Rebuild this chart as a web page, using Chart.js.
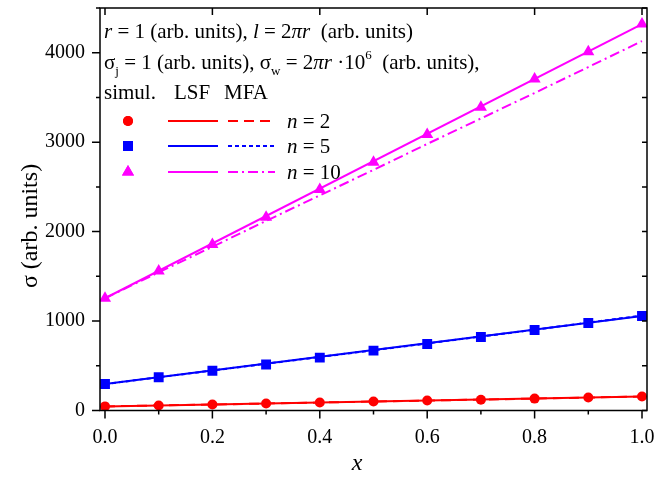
<!DOCTYPE html>
<html><head><meta charset="utf-8">
<script src="https://cdn.jsdelivr.net/npm/chart.js@4/dist/chart.umd.min.js"></script>
<style>html,body{margin:0;padding:0;background:#fff}</style>
</head><body>
<canvas id="c" width="670" height="483" style="width:670px;height:483px;display:block"></canvas>
<script>
// ---- data ----
const xValues = [0, 0.1, 0.2, 0.3, 0.4, 0.5, 0.6, 0.7, 0.8, 0.9, 1.0];
const simN2  = [46, 56, 67, 78, 89, 100, 111, 121, 133, 145, 157];
const simN5  = [296, 371, 445, 514, 591, 669, 744, 822, 900, 979, 1057];
const simN10 = [1255, 1560, 1855, 2160, 2470, 2775, 3085, 3390, 3705, 4010, 4320];
const mfaN2  = [46, 56, 67, 78, 89, 100, 111, 122, 133, 145, 157];
const mfaN5  = [296, 372, 447, 523, 598, 674, 750, 826, 903, 982, 1062];
const mfaN10 = [1255, 1545, 1830, 2120, 2405, 2690, 2980, 3265, 3550, 3840, 4130];
const lsfX   = [0, 1];
const lsfN2  = [45, 157];
const lsfN5  = [296, 1057];
const lsfN10 = [1255, 4320];
const xTickValues = [0, 0.1, 0.2, 0.3, 0.4, 0.5, 0.6, 0.7, 0.8, 0.9, 1.0];
const xTickLabels = ['0.0', '', '0.2', '', '0.4', '', '0.6', '', '0.8', '', '1.0'];
const yTickValues = [0, 500, 1000, 1500, 2000, 2500, 3000, 3500, 4000, 4500];
const yTickLabels = ['0', '', '1000', '', '2000', '', '3000', '', '4000', ''];

const RED = '#ff0000', BLUE = '#0000ff', MAG = '#ff00ff';
const FONT = '"Liberation Serif", "Times New Roman", serif';

function pts(xs, ys) { return xs.map((x, i) => ({x: x, y: ys[i]})); }

const simStyle = (c, style, r) => ({
  showLine: false, pointStyle: style, pointRadius: r, pointHoverRadius: r,
  backgroundColor: c, borderColor: c, borderWidth: 0
});
const lineStyle = (c, dash) => ({
  showLine: true, pointRadius: 0, pointHoverRadius: 0, borderColor: c,
  backgroundColor: c, borderWidth: 2, borderDash: dash, fill: false, tension: 0
});

const datasets = [
  Object.assign({label: 'simul n=2',  data: pts(xValues, simN2)},  simStyle(RED, 'circle', 5)),
  Object.assign({label: 'simul n=5',  data: pts(xValues, simN5)},  simStyle(BLUE, 'rect', 7)),
  Object.assign({label: 'simul n=10', data: pts(xValues, simN10)}, simStyle(MAG, 'triangle', 7)),
  Object.assign({label: 'LSF n=2',  data: pts(lsfX, lsfN2)},  lineStyle(RED, [])),
  Object.assign({label: 'LSF n=5',  data: pts(lsfX, lsfN5)},  lineStyle(BLUE, [])),
  Object.assign({label: 'LSF n=10', data: pts(lsfX, lsfN10)}, lineStyle(MAG, [])),
  Object.assign({label: 'MFA n=2',  data: pts(xValues, mfaN2)},  lineStyle(RED, [10, 6])),
  Object.assign({label: 'MFA n=5',  data: pts(xValues, mfaN5)},  lineStyle(BLUE, [4, 3])),
  Object.assign({label: 'MFA n=10', data: pts(xValues, mfaN10)}, lineStyle(MAG, [10, 4, 2, 4]))
];

function drawRuns(ctx, x, y, parts) {
  parts.forEach(p => {
    ctx.font = (p.i ? 'italic ' : '') + (p.s || 21) + 'px ' + FONT;
    ctx.fillText(p.t, x, y + (p.dy || 0));
    x += ctx.measureText(p.t).width;
  });
  return x;
}

const framePlugin = {
  id: 'frame',
  afterDraw(chart) {
    const ctx = chart.ctx, a = chart.chartArea;
    const xs = chart.scales.x, ys = chart.scales.y;
    ctx.save();
    ctx.strokeStyle = '#000';
    ctx.lineWidth = 1.5;
    ctx.strokeRect(a.left, a.top, a.right - a.left, a.bottom - a.top);
    ctx.beginPath();
    xTickValues.forEach((v, i) => {
      const px = xs.getPixelForValue(v);
      const major = xTickLabels[i] !== '';
      ctx.moveTo(px, a.bottom); ctx.lineTo(px, a.bottom + (major ? 8 : 4));
      if (major) { ctx.moveTo(px, a.top); ctx.lineTo(px, a.top + 7); }
    });
    yTickValues.forEach((v, i) => {
      const py = ys.getPixelForValue(v);
      const major = yTickLabels[i] !== '';
      ctx.moveTo(a.left, py); ctx.lineTo(a.left - (major ? 8 : 4), py);
      ctx.moveTo(a.right, py); ctx.lineTo(a.right - 5, py);
    });
    ctx.stroke();

    // axis titles
    ctx.fillStyle = '#000';
    ctx.textBaseline = 'middle';
    ctx.textAlign = 'center';
    ctx.font = 'italic 24px ' + FONT;
    ctx.fillText('x', 357, 464);
    ctx.save();
    ctx.translate(31, 226);
    ctx.rotate(-Math.PI / 2);
    ctx.font = '24px ' + FONT;
    ctx.fillText('\u03c3 (arb. units)', 0, 0);
    ctx.restore();

    // legend / annotation text
    ctx.textAlign = 'left';
    ctx.textBaseline = 'alphabetic';
    drawRuns(ctx, 104, 38, [
      {t: 'r', i: true}, {t: ' = 1 (arb. units), '}, {t: 'l', i: true},
      {t: ' = 2'}, {t: '\u03c0r', i: true}, {t: '  (arb. units)'}
    ]);
    drawRuns(ctx, 104, 69, [
      {t: '\u03c3'}, {t: 'j', s: 13, dy: 6}, {t: ' = 1 (arb. units), \u03c3'}, {t: 'w', s: 13, dy: 6},
      {t: ' = 2'}, {t: '\u03c0r', i: true}, {t: ' \u00b710'}, {t: '6', s: 13, dy: -10},
      {t: '  (arb. units),'}
    ]);
    drawRuns(ctx, 104, 99, [{t: 'simul.'}]);
    drawRuns(ctx, 174, 99, [{t: 'LSF'}]);
    drawRuns(ctx, 224, 99, [{t: 'MFA'}]);

    const rows = [
      {y: 121, c: RED, st: 'circle', r: 5, dash: [10, 6], n: '2'},
      {y: 146, c: BLUE, st: 'rect', r: 7, dash: [4, 3], n: '5'},
      {y: 172, c: MAG, st: 'triangle', r: 7, dash: [10, 4, 2, 4], n: '10'}
    ];
    rows.forEach(row => {
      ctx.fillStyle = row.c; ctx.strokeStyle = row.c;
      Chart.helpers.drawPoint(ctx, {pointStyle: row.st, radius: row.r, rotation: 0, borderWidth: 0}, 128, row.y);
      ctx.fill();
      ctx.lineWidth = 2;
      ctx.setLineDash([]);
      ctx.beginPath(); ctx.moveTo(168, row.y); ctx.lineTo(218, row.y); ctx.stroke();
      ctx.setLineDash(row.dash);
      ctx.beginPath(); ctx.moveTo(228, row.y); ctx.lineTo(275, row.y); ctx.stroke();
      ctx.setLineDash([]);
      ctx.fillStyle = '#000';
      drawRuns(ctx, 287, row.y + 7, [{t: 'n', i: true}, {t: ' = ' + row.n}]);
    });
    ctx.restore();
  }
};

new Chart(document.getElementById('c'), {
  type: 'line',
  data: {datasets: datasets},
  options: {
    responsive: false,
    devicePixelRatio: 1,
    animation: false,
    events: [],
    layout: {padding: {left: 0, right: 23, top: 8, bottom: 0}},
    plugins: {legend: {display: false}, tooltip: {enabled: false}, title: {display: false}},
    scales: {
      x: {
        type: 'linear', min: -0.0093, max: 1.0093,
        grid: {display: false, drawTicks: false},
        border: {display: false},
        afterBuildTicks: s => { s.ticks = xTickValues.map(v => ({value: v})); },
        afterFit: s => { s.height = 72.5; s.paddingLeft = 0; s.paddingRight = 0; },
        ticks: {
          autoSkip: false, maxRotation: 0, padding: 15, color: '#000',
          font: {family: FONT, size: 20},
          callback: (v, i) => xTickLabels[i]
        }
      },
      y: {
        type: 'linear', min: 0, max: 4500,
        grid: {display: false, drawTicks: false},
        border: {display: false},
        afterBuildTicks: s => { s.ticks = yTickValues.map(v => ({value: v})); },
        afterFit: s => { s.width = 100; s.paddingTop = 0; s.paddingBottom = 0; },
        ticks: {
          autoSkip: false, padding: 15, color: '#000',
          font: {family: FONT, size: 20},
          callback: (v, i) => yTickLabels[i]
        }
      }
    }
  },
  plugins: [framePlugin]
});
</script>
</body></html>
